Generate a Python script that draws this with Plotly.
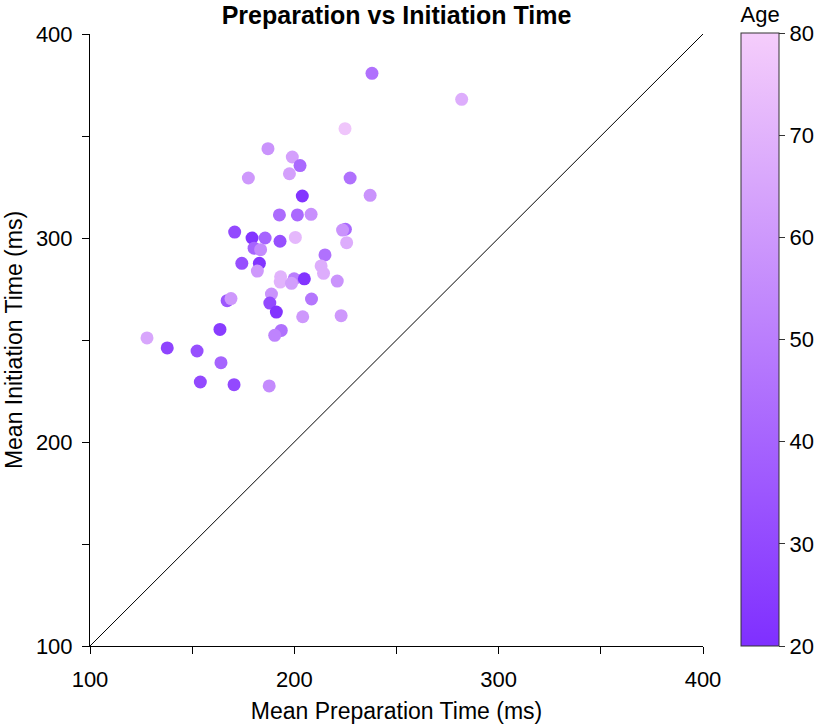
import plotly.graph_objects as go

prep_time = [238.0, 281.9, 224.8, 187.1, 199.0, 202.8, 177.5, 197.6, 227.3, 203.9,
             237.1, 192.7, 201.5, 208.2, 170.8, 179.3, 185.7, 193.0, 200.5, 225.0,
             223.6, 225.6, 180.3, 183.5, 215.0, 174.3, 182.9, 181.9, 193.3, 193.1,
             199.9, 204.9, 198.6, 213.1, 214.3, 221.0, 167.1, 169.0, 188.8, 188.0,
             191.2, 208.4, 204.1, 222.9, 163.6, 193.6, 190.4, 127.9, 137.8, 152.4,
             164.1, 154.0, 170.5, 187.7]
init_time = [380.7, 368.0, 353.6, 343.8, 339.7, 335.5, 329.4, 331.5, 329.4, 320.6,
             320.9, 311.3, 311.3, 311.6, 302.9, 300.0, 300.0, 298.4, 300.3, 304.3,
             303.9, 297.7, 295.0, 294.3, 291.7, 287.6, 287.6, 283.8, 281.0, 278.4,
             280.0, 280.0, 277.8, 286.3, 282.7, 278.9, 269.3, 270.3, 272.5, 268.1,
             263.7, 270.1, 261.4, 261.9, 255.2, 254.7, 252.3, 251.0, 246.1, 244.6,
             238.9, 229.4, 228.1, 227.5]
age = [45, 68, 77, 58, 63, 42, 60, 63, 45, 22,
       58, 43, 42, 57, 30, 22, 40, 32, 72, 42,
       58, 68, 40, 55, 45, 32, 22, 60, 70, 70,
       50, 22, 62, 68, 68, 58, 35, 60, 58, 30,
       22, 47, 60, 60, 25, 45, 52, 65, 28, 32,
       40, 30, 30, 55]

identity_line = [100, 400]
tick_values = [100, 150, 200, 250, 300, 350, 400]
tick_labels = ["100", "", "200", "", "300", "", "400"]
age_ticks = [20, 30, 40, 50, 60, 70, 80]

FONT = "Liberation Sans, Arial, sans-serif"
TICK_SIZE = 22
LABEL_SIZE = 23

fig = go.Figure()
fig.add_trace(go.Scatter(
    x=identity_line, y=identity_line, mode="lines",
    line=dict(color="black", width=1), showlegend=False, hoverinfo="skip"))
fig.add_trace(go.Scatter(
    x=prep_time, y=init_time, mode="markers", showlegend=False,
    marker=dict(
        size=13, color=age, cmin=20, cmax=80,
        colorscale=[[0, "rgb(127,47,255)"], [1, "rgb(245,205,251)"]],
        line=dict(width=0),
        colorbar=dict(
            title=dict(text="Age", side="top", font=dict(size=TICK_SIZE, family=FONT, color="black")),
            tickvals=age_ticks, ticks="outside", ticklen=6, tickcolor="#333",
            tickfont=dict(size=TICK_SIZE, family=FONT, color="black"),
            thicknessmode="pixels", thickness=38,
            lenmode="pixels", len=643,
            y=0, yanchor="bottom", ypad=0,
            x=1.062, xanchor="left", xpad=0,
            outlinewidth=1, outlinecolor="#333",
        ),
    ),
))

axis_common = dict(
    range=[100, 400], tickvals=tick_values, ticktext=tick_labels,
    ticks="outside", ticklen=7, tickcolor="black",
    showline=True, linecolor="black", linewidth=1, mirror=False,
    showgrid=False, zeroline=False,
    tickfont=dict(size=TICK_SIZE, family=FONT, color="black"),
)

fig.update_layout(
    width=819, height=727,
    margin=dict(l=90, r=116, t=34, b=81, autoexpand=False),
    plot_bgcolor="white", paper_bgcolor="white",
    title=dict(text="<b>Preparation vs Initiation Time</b>", x=0.5, xref="paper",
               xanchor="center",
               y=1 - 15 / 727, yref="container", yanchor="middle",
               font=dict(size=25, family=FONT, color="black")),
    xaxis=dict(**axis_common, ticklabelstandoff=7,
               title=dict(text="Mean Preparation Time (ms)", standoff=11,
                          font=dict(size=LABEL_SIZE, family=FONT, color="black"))),
    yaxis=dict(**axis_common, ticklabelstandoff=5,
               title=dict(text="Mean Initiation Time (ms)", standoff=6,
                          font=dict(size=LABEL_SIZE, family=FONT, color="black"))),
)

fig.write_html("out.html", config={"displayModeBar": False},
               post_script="document.body.style.margin='0px';")
